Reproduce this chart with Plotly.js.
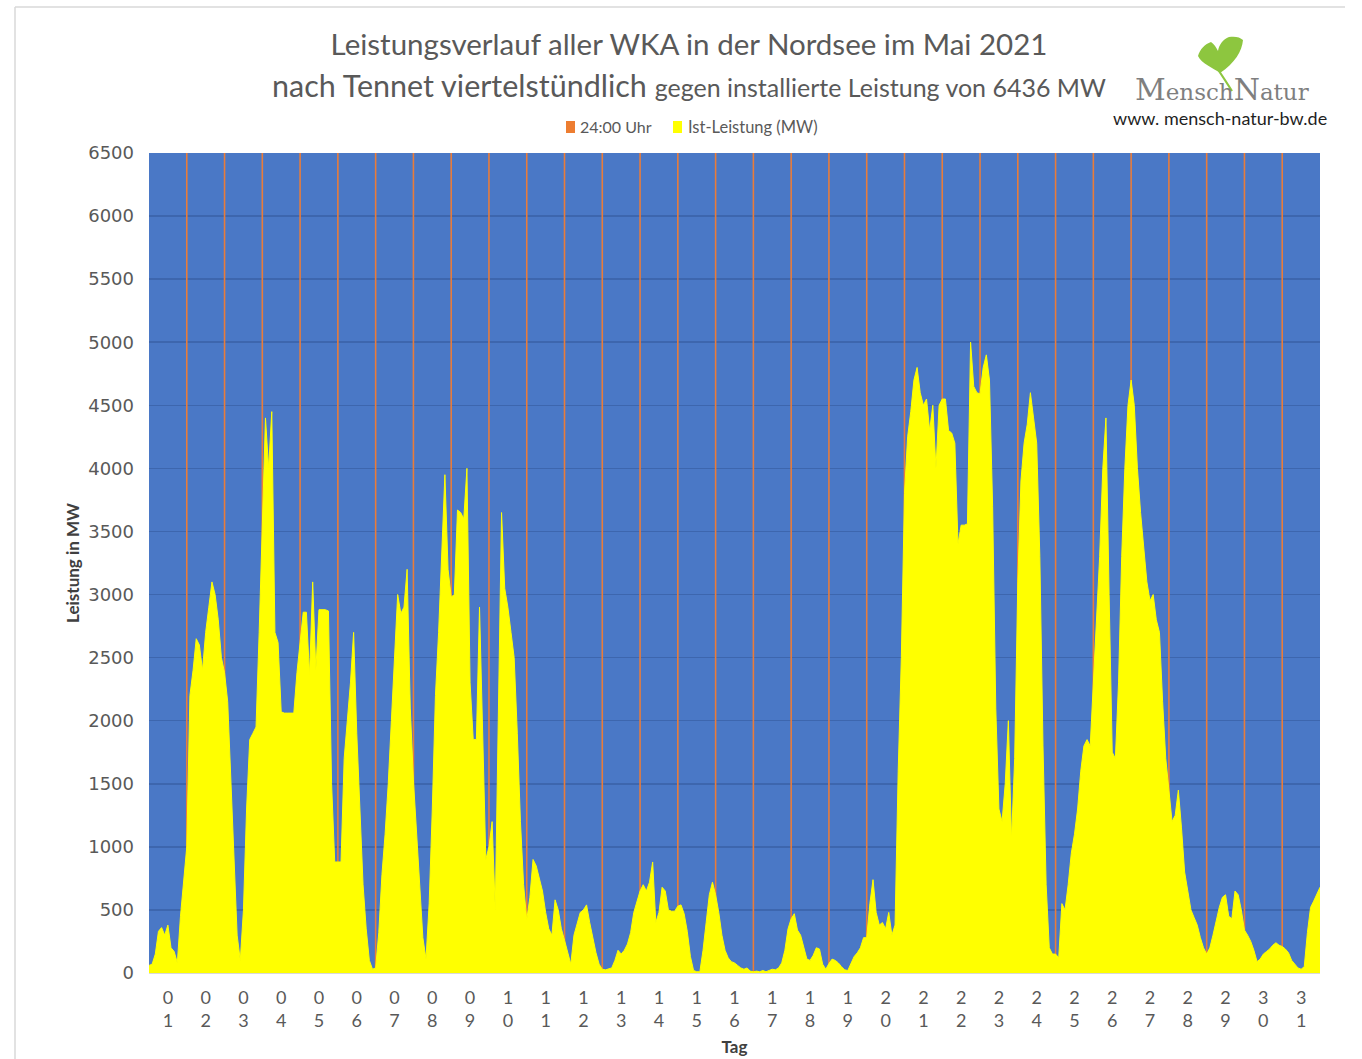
<!DOCTYPE html>
<html>
<head>
<meta charset="utf-8">
<script src="https://cdn.plot.ly/plotly-3.0.1.min.js"></script>
<style>
  html, body { margin: 0; padding: 0; background: #ffffff; }
  #chart { width: 1362px; height: 1059px; }
</style>
</head>
<body>
<div id="chart"></div>
<script>
// ---- Data ----
const tage = ['01','02','03','04','05','06','07','08','09','10','11','12','13','14','15','16',
              '17','18','19','20','21','22','23','24','25','26','27','28','29','30','31'];
// sampling hours within each day (every 2 hours)
const stunden = [0, 2, 4, 6, 8, 10, 12, 14, 16, 18, 20, 22];
// Ist-Leistung (MW), 12 values per day, one row per day
const istLeistung = [
  60, 70, 150, 330, 360, 300, 380, 200, 170, 80, 450, 720,             // 01
  1000, 2200, 2400, 2650, 2600, 2400, 2700, 2900, 3100, 3000, 2800, 2500, // 02
  2380, 2150, 1500, 900, 300, 100, 500, 1300, 1850, 1900, 1950, 2700,   // 03
  3600, 4400, 4000, 4450, 2700, 2620, 2070, 2060, 2060, 2060, 2060, 2380, // 04
  2650, 2860, 2860, 2360, 3100, 2400, 2880, 2880, 2880, 2870, 1500, 880, // 05
  880, 880, 1700, 1980, 2300, 2700, 1900, 1300, 700, 350, 100, 30,      // 06
  40, 320, 780, 1100, 1500, 2000, 2500, 3000, 2850, 2900, 3200, 2100,   // 07
  1530, 1100, 650, 280, 110, 550, 1300, 2200, 2700, 3400, 3950, 3200,   // 08
  2980, 3000, 3670, 3650, 3600, 4000, 2300, 1850, 1850, 2900, 1900, 900, // 09
  1000, 1200, 500, 2000, 3650, 3050, 2900, 2700, 2500, 1900, 1200, 700, // 10
  420, 600, 900, 850, 750, 650, 480, 350, 300, 580, 500, 350,           // 11
  260, 160, 70, 300, 400, 480, 500, 540, 400, 280, 160, 70,             // 12
  30, 25, 30, 40, 100, 180, 150, 180, 230, 320, 480, 560,               // 13
  650, 700, 650, 720, 880, 400, 480, 680, 650, 500, 490, 490,           // 14
  530, 540, 470, 330, 130, 20, 10, 10, 180, 400, 620, 720,              // 15
  620, 480, 300, 180, 120, 90, 80, 60, 40, 30, 40, 15,                  // 16
  10, 15, 10, 20, 10, 20, 30, 25, 40, 80, 180, 350,                     // 17
  430, 470, 340, 300, 200, 110, 100, 140, 200, 190, 70, 30,             // 18
  75, 110, 100, 80, 50, 25, 20, 80, 130, 160, 200, 280,                 // 19
  280, 550, 740, 480, 380, 400, 350, 480, 300, 380, 1600, 2500,         // 20
  3800, 4250, 4450, 4700, 4800, 4600, 4500, 4550, 4300, 4500, 4000, 4500, // 21
  4550, 4550, 4300, 4280, 4200, 3400, 3550, 3550, 3560, 5000, 4650, 4600, // 22
  4590, 4800, 4900, 4700, 3700, 2100, 1300, 1200, 1500, 2000, 1050, 1700, // 23
  3100, 3900, 4200, 4350, 4600, 4400, 4200, 3300, 1800, 700, 200, 150,  // 24
  150, 120, 550, 500, 700, 950, 1100, 1300, 1600, 1800, 1850, 1800,     // 25
  2270, 2760, 3300, 4000, 4400, 3000, 1750, 1700, 2300, 3300, 4000, 4500, // 26
  4700, 4500, 4000, 3650, 3350, 3100, 2950, 3000, 2800, 2700, 2150, 1700, // 27
  1450, 1200, 1250, 1450, 1150, 800, 650, 500, 440, 380, 280, 200,      // 28
  150, 200, 300, 420, 520, 600, 620, 450, 430, 650, 620, 500,           // 29
  340, 300, 250, 180, 90, 110, 150, 170, 190, 220, 240, 220,            // 30
  210, 190, 160, 100, 70, 40, 30, 50, 320, 520, 570, 620                // 31
];
const leistungEnde = 680; // value at 31.05. 24:00
// "24:00 Uhr" markers: end of each day (day number) and their height
const tagesende = [1,2,3,4,5,6,7,8,9,10,11,12,13,14,15,16,17,18,19,20,21,22,23,24,25,26,27,28,29,30];
const markerMW = [6500,6500,6500,6500,6500,6500,6500,6500,6500,6500,6500,6500,6500,6500,6500,
                  6500,6500,6500,6500,6500,6500,6500,6500,6500,6500,6500,6500,6500,6500,6500];
const yTicks = [0,500,1000,1500,2000,2500,3000,3500,4000,4500,5000,5500,6000,6500];

// ---- Build traces ----
const xs = [], ys = [];
tage.forEach((t, d) => {
  stunden.forEach((h, k) => {
    xs.push(d + h / 24);
    ys.push(istLeistung[d * stunden.length + k]);
  });
});
xs.push(tage.length);
ys.push(leistungEnde);

const grey = '#595959';
const traceMarker = {
  type: 'bar', name: '24:00 Uhr', x: tagesende, y: markerMW, width: 0.042,
  marker: { color: '#E97C3A', line: { width: 0 } }, showlegend: false, hoverinfo: 'skip'
};
const traceIst = {
  type: 'scatter', mode: 'lines', name: 'Ist-Leistung (MW)', x: xs, y: ys,
  fill: 'tozeroy', fillcolor: '#FFFF00', line: { color: '#FFFF00', width: 1 },
  showlegend: false
};

// paper coordinate helpers (plot area: x 149..1320, y 153..973 px)
const PX = px => (px - 149) / 1171;
const PY = py => (973 - py) / 820;

const leafSvg = '<svg xmlns="http://www.w3.org/2000/svg" width="50" height="58" viewBox="0 0 50 58">' +
  '<path d="M25,38 C18,33 6,28 3,21 C5,14 10,9 16,7 C19,9 21,12 23,16 C24,10 28,4 34,2 C40,1 45,2 48,5 C47,16 40,28 25,38 Z" fill="#8DC63F"/>' +
  '<path d="M24,36 Q30,45 37,56" stroke="#8DC63F" stroke-width="2.2" fill="none"/></svg>';

const layout = {
  width: 1362, height: 1059,
  paper_bgcolor: '#ffffff', plot_bgcolor: '#4A78C6',
  margin: { l: 149, r: 42, t: 153, b: 86, pad: 0 },
  font: { family: 'Lato, "Open Sans", sans-serif', color: grey },
  showlegend: false,
  title: {
    text: 'Leistungsverlauf aller WKA in der Nordsee im Mai 2021',
    font: { family: 'Lato, sans-serif', size: 29.5, color: grey },
    x: 689 / 1362, xanchor: 'center', xref: 'container',
    y: 1 - 45 / 1059, yanchor: 'middle', yref: 'container'
  },
  xaxis: {
    range: [0, tage.length], fixedrange: true,
    tickmode: 'array',
    tickvals: tage.map((t, i) => i + 0.5),
    ticktext: tage.map(t => t[0] + '<br>' + t[1]),
    tickfont: { family: 'Lato, sans-serif', size: 18, color: grey },
    ticks: '', ticklabelstandoff: 8,
    showgrid: false, zeroline: false,
    showline: true, linecolor: '#d9d9d9', linewidth: 1,
    title: { text: '<b>Tag</b>', font: { family: 'Lato, sans-serif', size: 17, color: '#404040' }, standoff: 11 }
  },
  yaxis: {
    range: [0, 6500], fixedrange: true,
    tickmode: 'array', tickvals: yTicks, ticktext: yTicks.map(String),
    tickfont: { family: '"DejaVu Sans", Verdana, sans-serif', size: 18, color: grey },
    ticks: '', ticklabelstandoff: 14,
    showgrid: true, gridcolor: '#3D66AE', gridwidth: 1.5,
    zeroline: false, showline: false,
    title: { text: '<b>Leistung in MW</b>', font: { family: 'Lato, sans-serif', size: 17, color: '#404040' }, standoff: 4 }
  },
  shapes: [
    // chart-area frame
    { type: 'line', xref: 'paper', yref: 'paper', x0: PX(15), x1: PX(15), y0: PY(1059), y1: PY(7), line: { color: '#d9d9d9', width: 1.5 } },
    { type: 'line', xref: 'paper', yref: 'paper', x0: PX(15), x1: PX(1345), y0: PY(7), y1: PY(7), line: { color: '#d9d9d9', width: 1.5 } },
    // legend swatches
    { type: 'rect', xref: 'paper', yref: 'paper', x0: PX(566), x1: PX(575), y0: PY(133), y1: PY(121), fillcolor: '#ED7D31', line: { width: 0 } },
    { type: 'rect', xref: 'paper', yref: 'paper', x0: PX(673), x1: PX(682), y0: PY(133), y1: PY(121), fillcolor: '#FFFF00', line: { width: 0 } }
  ],
  annotations: [
    { xref: 'paper', yref: 'paper', x: PX(689), y: PY(85), xanchor: 'center', yanchor: 'middle', showarrow: false,
      text: 'nach Tennet viertelstündlich <span style="font-size:25px">gegen installierte Leistung von 6436 MW</span>',
      font: { family: 'Lato, sans-serif', size: 30.5, color: grey } },
    { xref: 'paper', yref: 'paper', x: PX(578), y: PY(127), xanchor: 'left', yanchor: 'middle', showarrow: false,
      text: '24:00 Uhr', font: { family: 'Lato, sans-serif', size: 16, color: grey } },
    { xref: 'paper', yref: 'paper', x: PX(686), y: PY(127), xanchor: 'left', yanchor: 'middle', showarrow: false,
      text: 'Ist-Leistung (MW)', font: { family: 'Lato, sans-serif', size: 16.5, color: grey } },
    { xref: 'paper', yref: 'paper', x: PX(1222), y: PY(90), xanchor: 'center', yanchor: 'middle', showarrow: false,
      text: '<span style="font-size:30px">M</span>ensch<span style="font-size:30px">N</span>atur',
      font: { family: '"DejaVu Serif", "Liberation Serif", serif', size: 23, color: '#7f7f7f' } },
    { xref: 'paper', yref: 'paper', x: PX(1220), y: PY(118), xanchor: 'center', yanchor: 'middle', showarrow: false,
      text: 'www. mensch-natur-bw.de', font: { family: 'Lato, sans-serif', size: 18, color: '#1f1f1f' } }
  ],
  images: [
    { source: 'data:image/svg+xml;charset=utf-8,' + encodeURIComponent(leafSvg),
      xref: 'paper', yref: 'paper', x: PX(1195), y: PY(35), sizex: 50 / 1171, sizey: 58 / 820,
      xanchor: 'left', yanchor: 'top', sizing: 'stretch', layer: 'below' }
  ]
};

Plotly.newPlot('chart', [traceMarker, traceIst], layout, { displayModeBar: false, staticPlot: true });
</script>
</body>
</html>
